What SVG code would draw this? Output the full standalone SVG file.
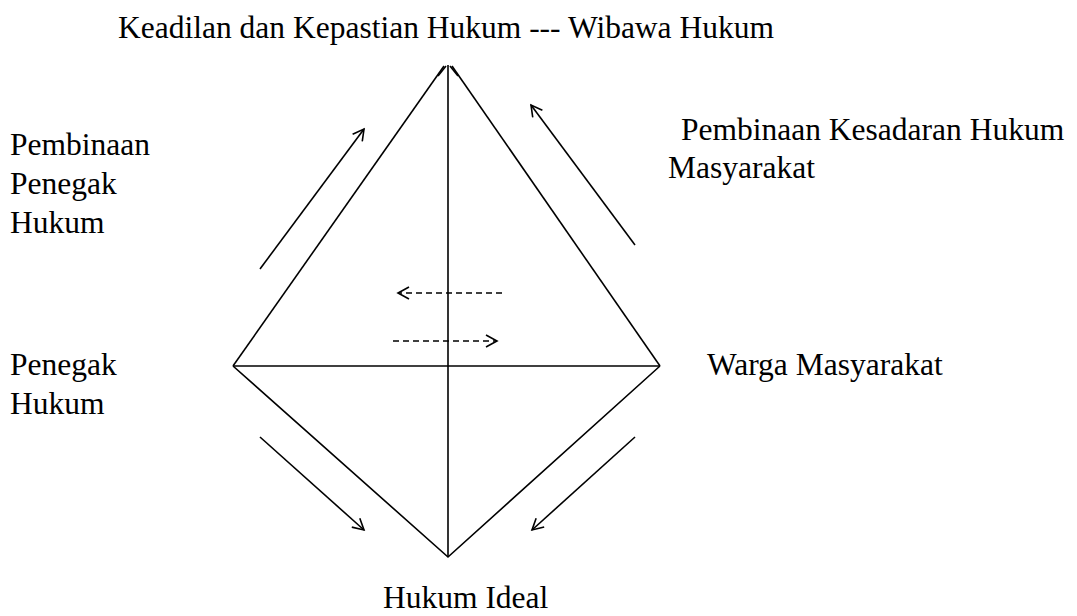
<svg xmlns="http://www.w3.org/2000/svg" width="1077" height="616" viewBox="0 0 1077 616">
<style>
text{font-family:"Liberation Serif","Times New Roman",serif;font-size:31.5px;fill:#000}
.l{stroke:#000;stroke-width:1.6;fill:none}
.d{stroke:#000;stroke-width:1.5;fill:none;stroke-dasharray:6,4}
</style>
<defs>
<marker id="ah" viewBox="0 0 14 14" refX="12" refY="7" markerWidth="14" markerHeight="14" markerUnits="userSpaceOnUse" orient="auto">
<path d="M1,1 L12,7 L1,13" fill="none" stroke="#000" stroke-width="1.6"/>
</marker>
</defs>
<rect width="1077" height="616" fill="#fff"/>
<g id="connectors">
<path class="l" d="M233,366 L444,66"/>
<path class="l" d="M660,366 L452,66"/>
<path class="l" d="M438,76 L446,66"/>
<path class="l" d="M458,76 L450,66"/>
<path class="l" d="M448,65 L448,557"/>
<path class="l" d="M233,366 L660,366"/>
<path class="l" d="M233,366 L448,557 L660,366"/>
<path class="l" d="M260,269 L364,129" marker-end="url(#ah)"/>
<path class="l" d="M635,245 L531,105" marker-end="url(#ah)"/>
<path class="l" d="M260,437 L364,530" marker-end="url(#ah)"/>
<path class="l" d="M635,437 L532,530" marker-end="url(#ah)"/>
<path class="d" d="M502,293 L398,293" marker-end="url(#ah)"/>
<path class="d" d="M393,341 L497,341" marker-end="url(#ah)"/>
</g>
<g id="node-top"><text x="118" y="38">Keadilan dan Kepastian Hukum --- Wibawa Hukum</text></g>
<g id="node-pembinaan-penegak"><text x="10" y="155">Pembinaan</text><text x="10" y="194">Penegak</text><text x="10" y="233">Hukum</text></g>
<g id="node-pembinaan-kesadaran"><text x="681" y="140">Pembinaan Kesadaran Hukum</text><text x="668" y="178">Masyarakat</text></g>
<g id="node-penegak"><text x="10" y="375">Penegak</text><text x="10" y="414">Hukum</text></g>
<g id="node-warga"><text x="707" y="375">Warga Masyarakat</text></g>
<g id="node-ideal"><text x="383" y="608">Hukum Ideal</text></g>
</svg>
